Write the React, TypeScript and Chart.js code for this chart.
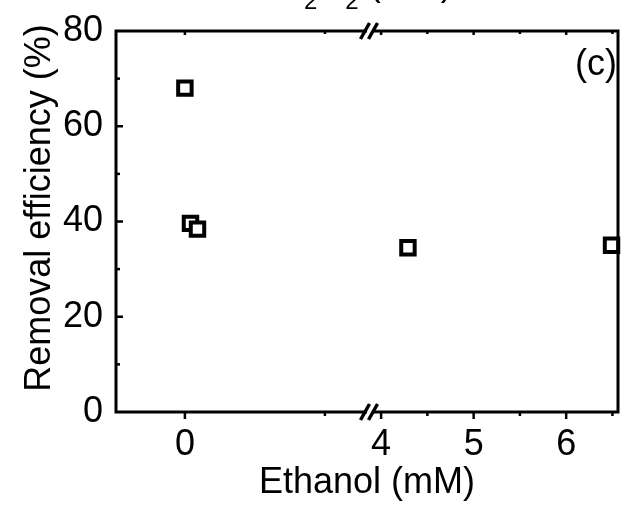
import React, { useEffect, useRef } from "react";
import { Chart, registerables } from "chart.js";

Chart.register(...registerables);

// Left (low-concentration) segment of the broken x axis
const leftEthanol = [0, 0.02, 0.045];
const leftRemoval = [68, 39.6, 38.4];
// Right segment of the broken x axis
const rightEthanol = [4.29, 6.49];
const rightRemoval = [34.5, 35.0];

const leftTickLabels = [0];
const rightTickLabels = [4, 5, 6];
const yTickLabels = [0, 20, 40, 60, 80];

const FONT = "'Liberation Sans', Arial, sans-serif";

const decorPlugin = {
  id: "decor",
  afterDraw(chart: any) {
    const { ctx, chartArea } = chart;
    const { left, right, top, bottom } = chartArea;
    const y = chart.scales.y;
    const x1 = chart.scales.x1;
    const x2 = chart.scales.x2;
    ctx.save();
    ctx.strokeStyle = "#000";
    ctx.fillStyle = "#000";
    ctx.lineWidth = 3;
    ctx.lineCap = "butt";
    // frame
    ctx.beginPath();
    ctx.rect(left, top, right - left, bottom - top);
    ctx.stroke();

    // y ticks (inward)
    ctx.lineWidth = 2.5;
    for (const t of y.ticks) {
      if (t.value <= y.min || t.value >= y.max) continue;
      const py = y.getPixelForValue(t.value);
      const len = yTickLabels.includes(t.value) ? 7 : 4;
      ctx.beginPath();
      ctx.moveTo(left, py);
      ctx.lineTo(left + len, py);
      ctx.stroke();
    }
    // x ticks bottom (outward) & top (inward)
    const drawX = (sc: any, labels: number[]) => {
      for (const t of sc.ticks) {
        const px = sc.getPixelForValue(t.value);
        if (px <= left + 1 || px >= right - 1) continue;
        const major = labels.includes(t.value);
        const len = major ? 7 : 4;
        ctx.beginPath();
        ctx.moveTo(px, bottom);
        ctx.lineTo(px, bottom + len);
        ctx.stroke();
        ctx.beginPath();
        ctx.moveTo(px, top);
        ctx.lineTo(px, top + (major ? 4 : 3));
        ctx.stroke();
      }
    };
    drawX(x1, leftTickLabels);
    drawX(x2, rightTickLabels);

    // break marks
    const xb = x2.left;
    const drawBreak = (cy: number) => {
      ctx.fillStyle = "#fff";
      ctx.fillRect(xb - 3, cy - 3, 6, 6);
      ctx.strokeStyle = "#000";
      ctx.lineWidth = 3.5;
      for (const dx of [-5, 3]) {
        ctx.beginPath();
        ctx.moveTo(xb + dx - 4.5, cy + 8);
        ctx.lineTo(xb + dx + 4.5, cy - 8);
        ctx.stroke();
      }
    };
    drawBreak(bottom);
    drawBreak(top);

    // texts
    ctx.fillStyle = "#000";
    ctx.font = `36px ${FONT}`;
    ctx.textAlign = "center";
    ctx.textBaseline = "alphabetic";
    ctx.fillText("Ethanol (mM)", (left + right) / 2, 493);

    ctx.save();
    ctx.translate(50, 208);
    ctx.rotate(-Math.PI / 2);
    ctx.fillText("Removal efficiency (%)", 0, 0);
    ctx.restore();

    ctx.textAlign = "right";
    ctx.fillText("(c)", 617, 75);

    // partially cut-off header
    ctx.textAlign = "left";
    let cx = 278;
    const parts: [string, boolean][] = [["H", false], ["2", true], ["O", false], ["2", true], [" (mM)", false]];
    for (const [s, sub] of parts) {
      ctx.font = sub ? `24px ${FONT}` : `36px ${FONT}`;
      ctx.fillText(s, cx, sub ? 9 : -5);
      cx += ctx.measureText(s).width;
    }
    ctx.restore();
  },
};

export default function App() {
  const ref = useRef<HTMLCanvasElement | null>(null);
  useEffect(() => {
    document.body.style.margin = "0";
    if (!ref.current) return;
    const tickFont = { family: FONT, size: 36 };
    const pointStyle = {
      pointStyle: "rect",
      pointRadius: 9.5,
      pointBorderWidth: 4,
      borderColor: "#000",
      backgroundColor: "#fff",
      clip: false,
    };
    const grid = { display: false, drawTicks: false, tickLength: 0 };
    const noPad = (s: any) => {
      s.paddingTop = 0;
      s.paddingBottom = 0;
      s.paddingLeft = 0;
      s.paddingRight = 0;
    };
    const chart = new Chart(ref.current, {
      type: "scatter",
      data: {
        datasets: [
          {
            ...pointStyle,
            data: leftEthanol.map((v, i) => ({ x: v, y: leftRemoval[i] })),
            xAxisID: "x1",
            yAxisID: "y",
          } as any,
          {
            ...pointStyle,
            data: rightEthanol.map((v, i) => ({ x: v, y: rightRemoval[i] })),
            xAxisID: "x2",
            yAxisID: "y",
          } as any,
        ],
      },
      options: {
        responsive: false,
        animation: false,
        events: [],
        layout: { padding: { top: 31, right: 14, left: 0, bottom: 0 } },
        plugins: { legend: { display: false }, tooltip: { enabled: false }, title: { display: false } },
        scales: {
          x1: {
            type: "linear",
            position: "bottom",
            stack: "xs",
            stackWeight: 254,
            min: -0.246,
            max: 0.661,
            grid,
            border: { display: false },
            ticks: {
              stepSize: 0.5,
              includeBounds: false,
              autoSkip: false,
              maxRotation: 0,
              padding: 11,
              color: "#000",
              font: tickFont,
              callback: (v: any) => (leftTickLabels.includes(Number(v)) ? String(v) : ""),
            },
            afterFit: (s: any) => { s.height = 96; noPad(s); },
          } as any,
          x2: {
            type: "linear",
            position: "bottom",
            stack: "xs",
            stackWeight: 248,
            min: 3.88,
            max: 6.56,
            grid,
            border: { display: false },
            ticks: {
              stepSize: 0.5,
              includeBounds: false,
              autoSkip: false,
              maxRotation: 0,
              padding: 11,
              color: "#000",
              font: tickFont,
              callback: (v: any) => (rightTickLabels.includes(Number(v)) ? String(v) : ""),
            },
            afterFit: (s: any) => { s.height = 96; noPad(s); },
          } as any,
          y: {
            type: "linear",
            position: "left",
            min: 0,
            max: 80,
            grid,
            border: { display: false },
            ticks: {
              stepSize: 10,
              autoSkip: false,
              padding: 13,
              color: "#000",
              font: tickFont,
              callback: (v: any) => (yTickLabels.includes(Number(v)) ? String(v) : ""),
            },
            afterFit: (s: any) => { s.width = 116; noPad(s); },
          } as any,
        },
      },
      plugins: [decorPlugin],
    });
    return () => chart.destroy();
  }, []);
  return (
    <div style={{ width: 632, height: 508 }}>
      <canvas ref={ref} width={632} height={508} />
    </div>
  );
}
